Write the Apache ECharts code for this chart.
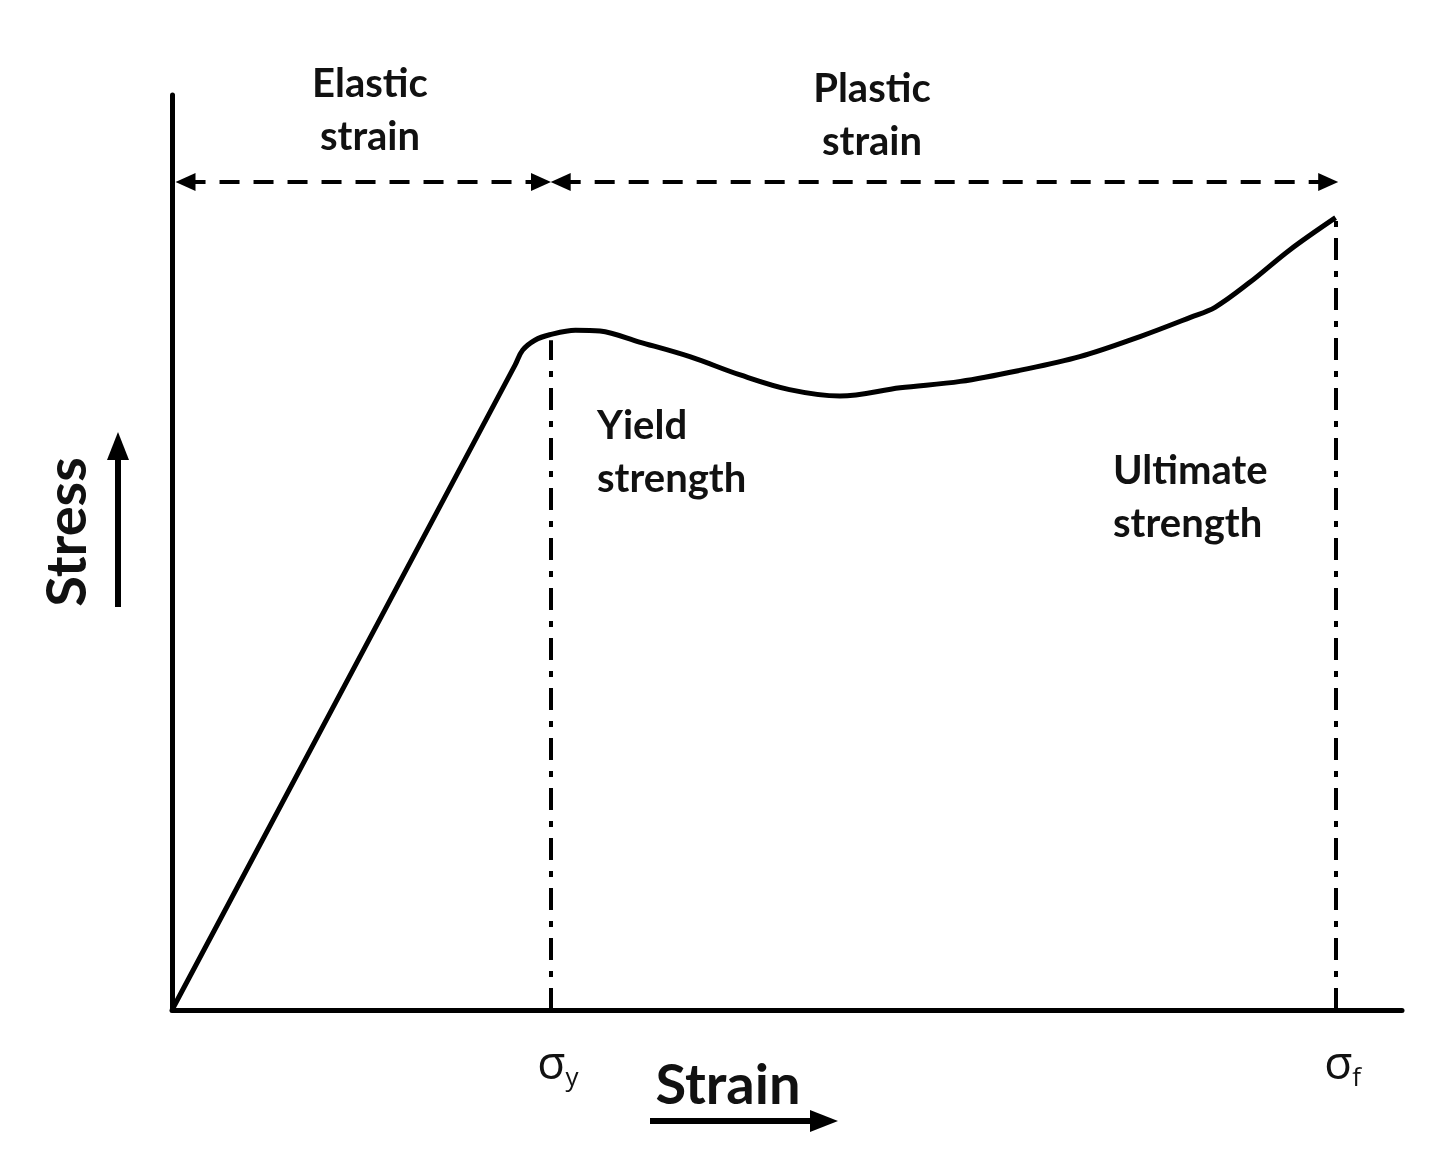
<!DOCTYPE html>
<html><head><meta charset="utf-8">
<script src="https://cdn.jsdelivr.net/npm/echarts@6/dist/echarts.min.js"></script>
<style>html,body{margin:0;padding:0;background:#fff}#c{width:1440px;height:1166px}</style>
</head><body><div id="c"></div>
<script>
// Stress-strain curve (arbitrary units, 0-100)
const strain = [0, 27.9, 28.5, 29.5, 30.7, 32.8, 34.8, 38.0, 42.1, 46.2, 50.2, 54.3, 59.2, 64.1, 68.9, 73.8, 78.7, 82.8, 84.8, 87.6, 90.9, 94.6];
const stress = [0, 70.5, 72.1, 73.2, 73.8, 74.3, 74.2, 73.0, 71.4, 69.4, 67.8, 67.1, 68.0, 68.7, 69.9, 71.4, 73.6, 75.7, 76.8, 79.5, 83.1, 86.6];
// Marked strain positions
const tickValues = [30.8, 94.6];
const tickSubs = ['y', 'f'];
const yieldStress = 73.2;
const ultimateStress = 86.6;
// Region arrows (arrowhead centres)
const arrowLevel = 90.5;
const elasticArrow = [1.1, 30.0];
const plasticArrow = [31.6, 94.0];
const regionLabels = ['Elastic\nstrain', 'Plastic\nstrain'];
const pointLabels = ['Yield\nstrength', 'Ultimate\nstrength'];
const axisNames = ['Strain', 'Stress'];

const FONT = 'Lato';
const chart = echarts.init(document.getElementById('c'), null, {renderer: 'canvas'});
const dashDot = [22, 11, 6, 11];
const arrowSize = [18, 20];
const dashStyle = {type: [20, 14], width: 4, color: '#000'};
const option = {
  animation: false,
  backgroundColor: '#fff',
  grid: {left: 172, right: 38, top: 95, bottom: 156},
  xAxis: {
    type: 'value', min: 0, max: 100,
    axisLine: {show: true, onZero: false, lineStyle: {color: '#000', width: 5}},
    axisTick: {show: false},
    splitLine: {show: false},
    axisLabel: {
      show: true, customValues: tickValues, margin: 30,
      formatter: function (v) {
        let idx = 0, best = 1e9;
        tickValues.forEach((t, i) => { if (Math.abs(t - v) < best) { best = Math.abs(t - v); idx = i; } });
        return '{s|σ}{sub|' + tickSubs[idx] + '}';
      },
      rich: {
        s: {fontSize: 46, fontFamily: 'Open Sans', color: '#111', padding: [0, 0, 0, 14]},
        sub: {fontSize: 26, fontFamily: 'Open Sans', color: '#111', padding: [26, 0, 0, 0]}
      }
    }
  },
  yAxis: {
    type: 'value', min: 0, max: 100,
    axisLine: {show: true, onZero: false, lineStyle: {color: '#000', width: 5}},
    axisTick: {show: false}, axisLabel: {show: false}, splitLine: {show: false}
  },
  series: [{
    type: 'line',
    data: strain.map((x, i) => [x, stress[i]]),
    smooth: 0.35,
    showSymbol: false, symbol: 'none',
    lineStyle: {color: '#000', width: 5},
    markLine: {
      silent: true, animation: false,
      label: {show: false},
      data: [
        [{coord: [tickValues[0], 0], symbol: 'none', lineStyle: {type: dashDot, width: 4, color: '#000'}},
         {coord: [tickValues[0], yieldStress], symbol: 'none'}],
        [{coord: [tickValues[1], 0], symbol: 'none', lineStyle: {type: dashDot, width: 4, color: '#000'}},
         {coord: [tickValues[1], ultimateStress], symbol: 'none'}],
        [{coord: [elasticArrow[0], arrowLevel], symbol: 'triangle', symbolSize: arrowSize, lineStyle: dashStyle},
         {coord: [elasticArrow[1], arrowLevel], symbol: 'triangle', symbolSize: arrowSize}],
        [{coord: [plasticArrow[0], arrowLevel], symbol: 'triangle', symbolSize: arrowSize, lineStyle: dashStyle},
         {coord: [plasticArrow[1], arrowLevel], symbol: 'triangle', symbolSize: arrowSize}]
      ]
    }
  }],
  graphic: [
    {type: 'text', style: {text: regionLabels[0], x: 370, y: 111, align: 'center', verticalAlign: 'middle', font: 'bold 40px ' + FONT, lineHeight: 53, fill: '#111'}},
    {type: 'text', style: {text: regionLabels[1], x: 872, y: 116, align: 'center', verticalAlign: 'middle', font: 'bold 40px ' + FONT, lineHeight: 53, fill: '#111'}},
    {type: 'text', style: {text: pointLabels[0], x: 597, y: 453, align: 'left', verticalAlign: 'middle', font: 'bold 40px ' + FONT, lineHeight: 53, fill: '#111'}},
    {type: 'text', style: {text: pointLabels[1], x: 1113, y: 498, align: 'left', verticalAlign: 'middle', font: 'bold 40px ' + FONT, lineHeight: 53, fill: '#111'}},
    {type: 'text', style: {text: axisNames[0], x: 728, y: 1086, align: 'center', verticalAlign: 'middle', font: 'bold 56px ' + FONT, fill: '#111'}},
    {type: 'text', x: 68, y: 532, rotation: Math.PI / 2, style: {text: axisNames[1], x: 0, y: 0, align: 'center', verticalAlign: 'middle', font: 'bold 56px ' + FONT, fill: '#111'}},
    {type: 'line', shape: {x1: 650, y1: 1121, x2: 815, y2: 1121}, style: {stroke: '#000', lineWidth: 6}},
    {type: 'polygon', shape: {points: [[810, 1110], [838, 1121], [810, 1132]]}, style: {fill: '#000'}},
    {type: 'line', shape: {x1: 118, y1: 607, x2: 118, y2: 455}, style: {stroke: '#000', lineWidth: 6}},
    {type: 'polygon', shape: {points: [[107, 460], [118, 432], [129, 460]]}, style: {fill: '#000'}}
  ]
};
chart.setOption(option);
</script>
</body></html>
